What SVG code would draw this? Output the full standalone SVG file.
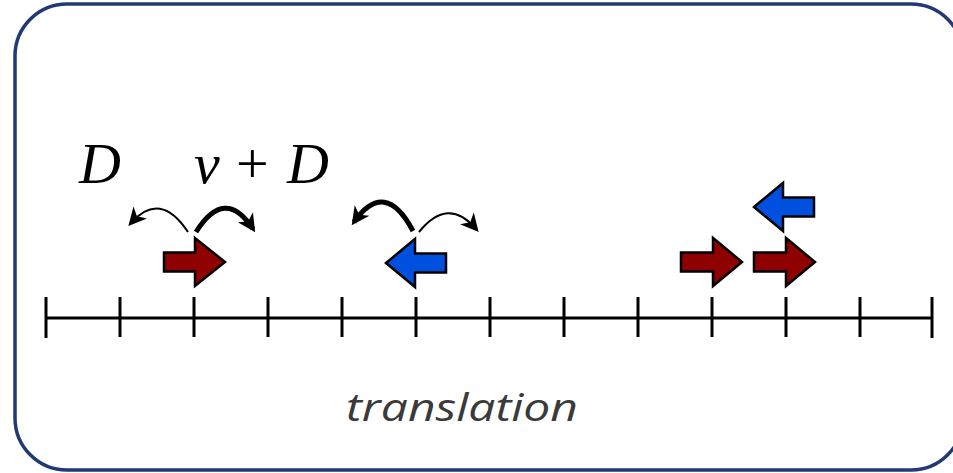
<svg xmlns="http://www.w3.org/2000/svg" width="953" height="473" viewBox="0 0 953 473">
<style>
.math{font-family:"Liberation Serif","DejaVu Serif",serif;font-size:58px;fill:#000}
.it{font-style:italic}
.red{fill:#8f0000;stroke:#000;stroke-width:2.5;stroke-linejoin:miter}
.blue{fill:#0050e0;stroke:#000;stroke-width:2.5;stroke-linejoin:miter}
.thin{fill:none;stroke:#000;stroke-width:2}
.thick{fill:none;stroke:#000;stroke-width:5}
.axis{stroke:#000;stroke-width:3;fill:none}
</style>
<defs>
<marker id="ah" viewBox="-18 -10 24 20" refX="0" refY="0" markerWidth="24" markerHeight="20" markerUnits="userSpaceOnUse" orient="auto">
<path d="M4,0 L-14,-9 L-9,0 L-14,9 Z" fill="#000"/>
</marker>
</defs>
<rect id="frame" x="15" y="4" width="948" height="466" rx="52" ry="52" fill="#fff" stroke="#213a75" stroke-width="3.5"/>
<g id="axis">
<line class="axis" x1="46" y1="318" x2="932" y2="318"/>
<line class="axis" x1="46" y1="297" x2="46" y2="338"/>
<line class="axis" x1="120" y1="297" x2="120" y2="337"/>
<line class="axis" x1="194" y1="297" x2="194" y2="337"/>
<line class="axis" x1="268" y1="297" x2="268" y2="337"/>
<line class="axis" x1="342" y1="297" x2="342" y2="337"/>
<line class="axis" x1="416" y1="297" x2="416" y2="337"/>
<line class="axis" x1="490" y1="297" x2="490" y2="337"/>
<line class="axis" x1="564" y1="297" x2="564" y2="337"/>
<line class="axis" x1="638" y1="297" x2="638" y2="337"/>
<line class="axis" x1="712" y1="297" x2="712" y2="337"/>
<line class="axis" x1="786" y1="297" x2="786" y2="337"/>
<line class="axis" x1="860" y1="297" x2="860" y2="337"/>
<line class="axis" x1="932" y1="297" x2="932" y2="338"/>
</g>
<g id="arrow-red-1"><polygon class="red" points="164,252.5 195,252.5 195,238 225,262 195,286 195,271.5 164,271.5"/></g>
<g id="arrow-blue-1"><polygon class="blue" points="446,253.5 415,253.5 415,239 386,263 415,287 415,272.5 446,272.5"/></g>
<g id="arrow-red-2"><polygon class="red" points="681,252.5 713,252.5 713,238 742,262 713,286 713,271.5 681,271.5"/></g>
<g id="arrow-red-3"><polygon class="red" points="754,252.5 786,252.5 786,238 815,262 786,286 786,271.5 754,271.5"/></g>
<g id="arrow-blue-2"><polygon class="blue" points="814,197.5 783,197.5 783,183 754,207 783,231 783,216.5 814,216.5"/></g>
<g id="connectors">
<path class="thin" d="M188,232 Q160,190 131,223" marker-end="url(#ah)"/>
<path class="thick" d="M196,232 Q225,186 253,229" marker-end="url(#ah)"/>
<path class="thick" d="M413,231 Q385,178 354,222" marker-end="url(#ah)"/>
<path class="thin" d="M419,232 Q448,196 476,229" marker-end="url(#ah)"/>
</g>
<g id="labels">
<text class="math it" x="79" y="183">D</text>
<text class="math it" x="194" y="183">v</text>
<text class="math" x="236" y="183">+</text>
<text class="math it" x="287" y="183">D</text>
<text x="346" y="421" font-family="'Open Sans','Noto Sans',sans-serif" font-style="italic" font-size="39" fill="#3a3a3a" textLength="232" lengthAdjust="spacingAndGlyphs">translation</text>
</g>
</svg>
